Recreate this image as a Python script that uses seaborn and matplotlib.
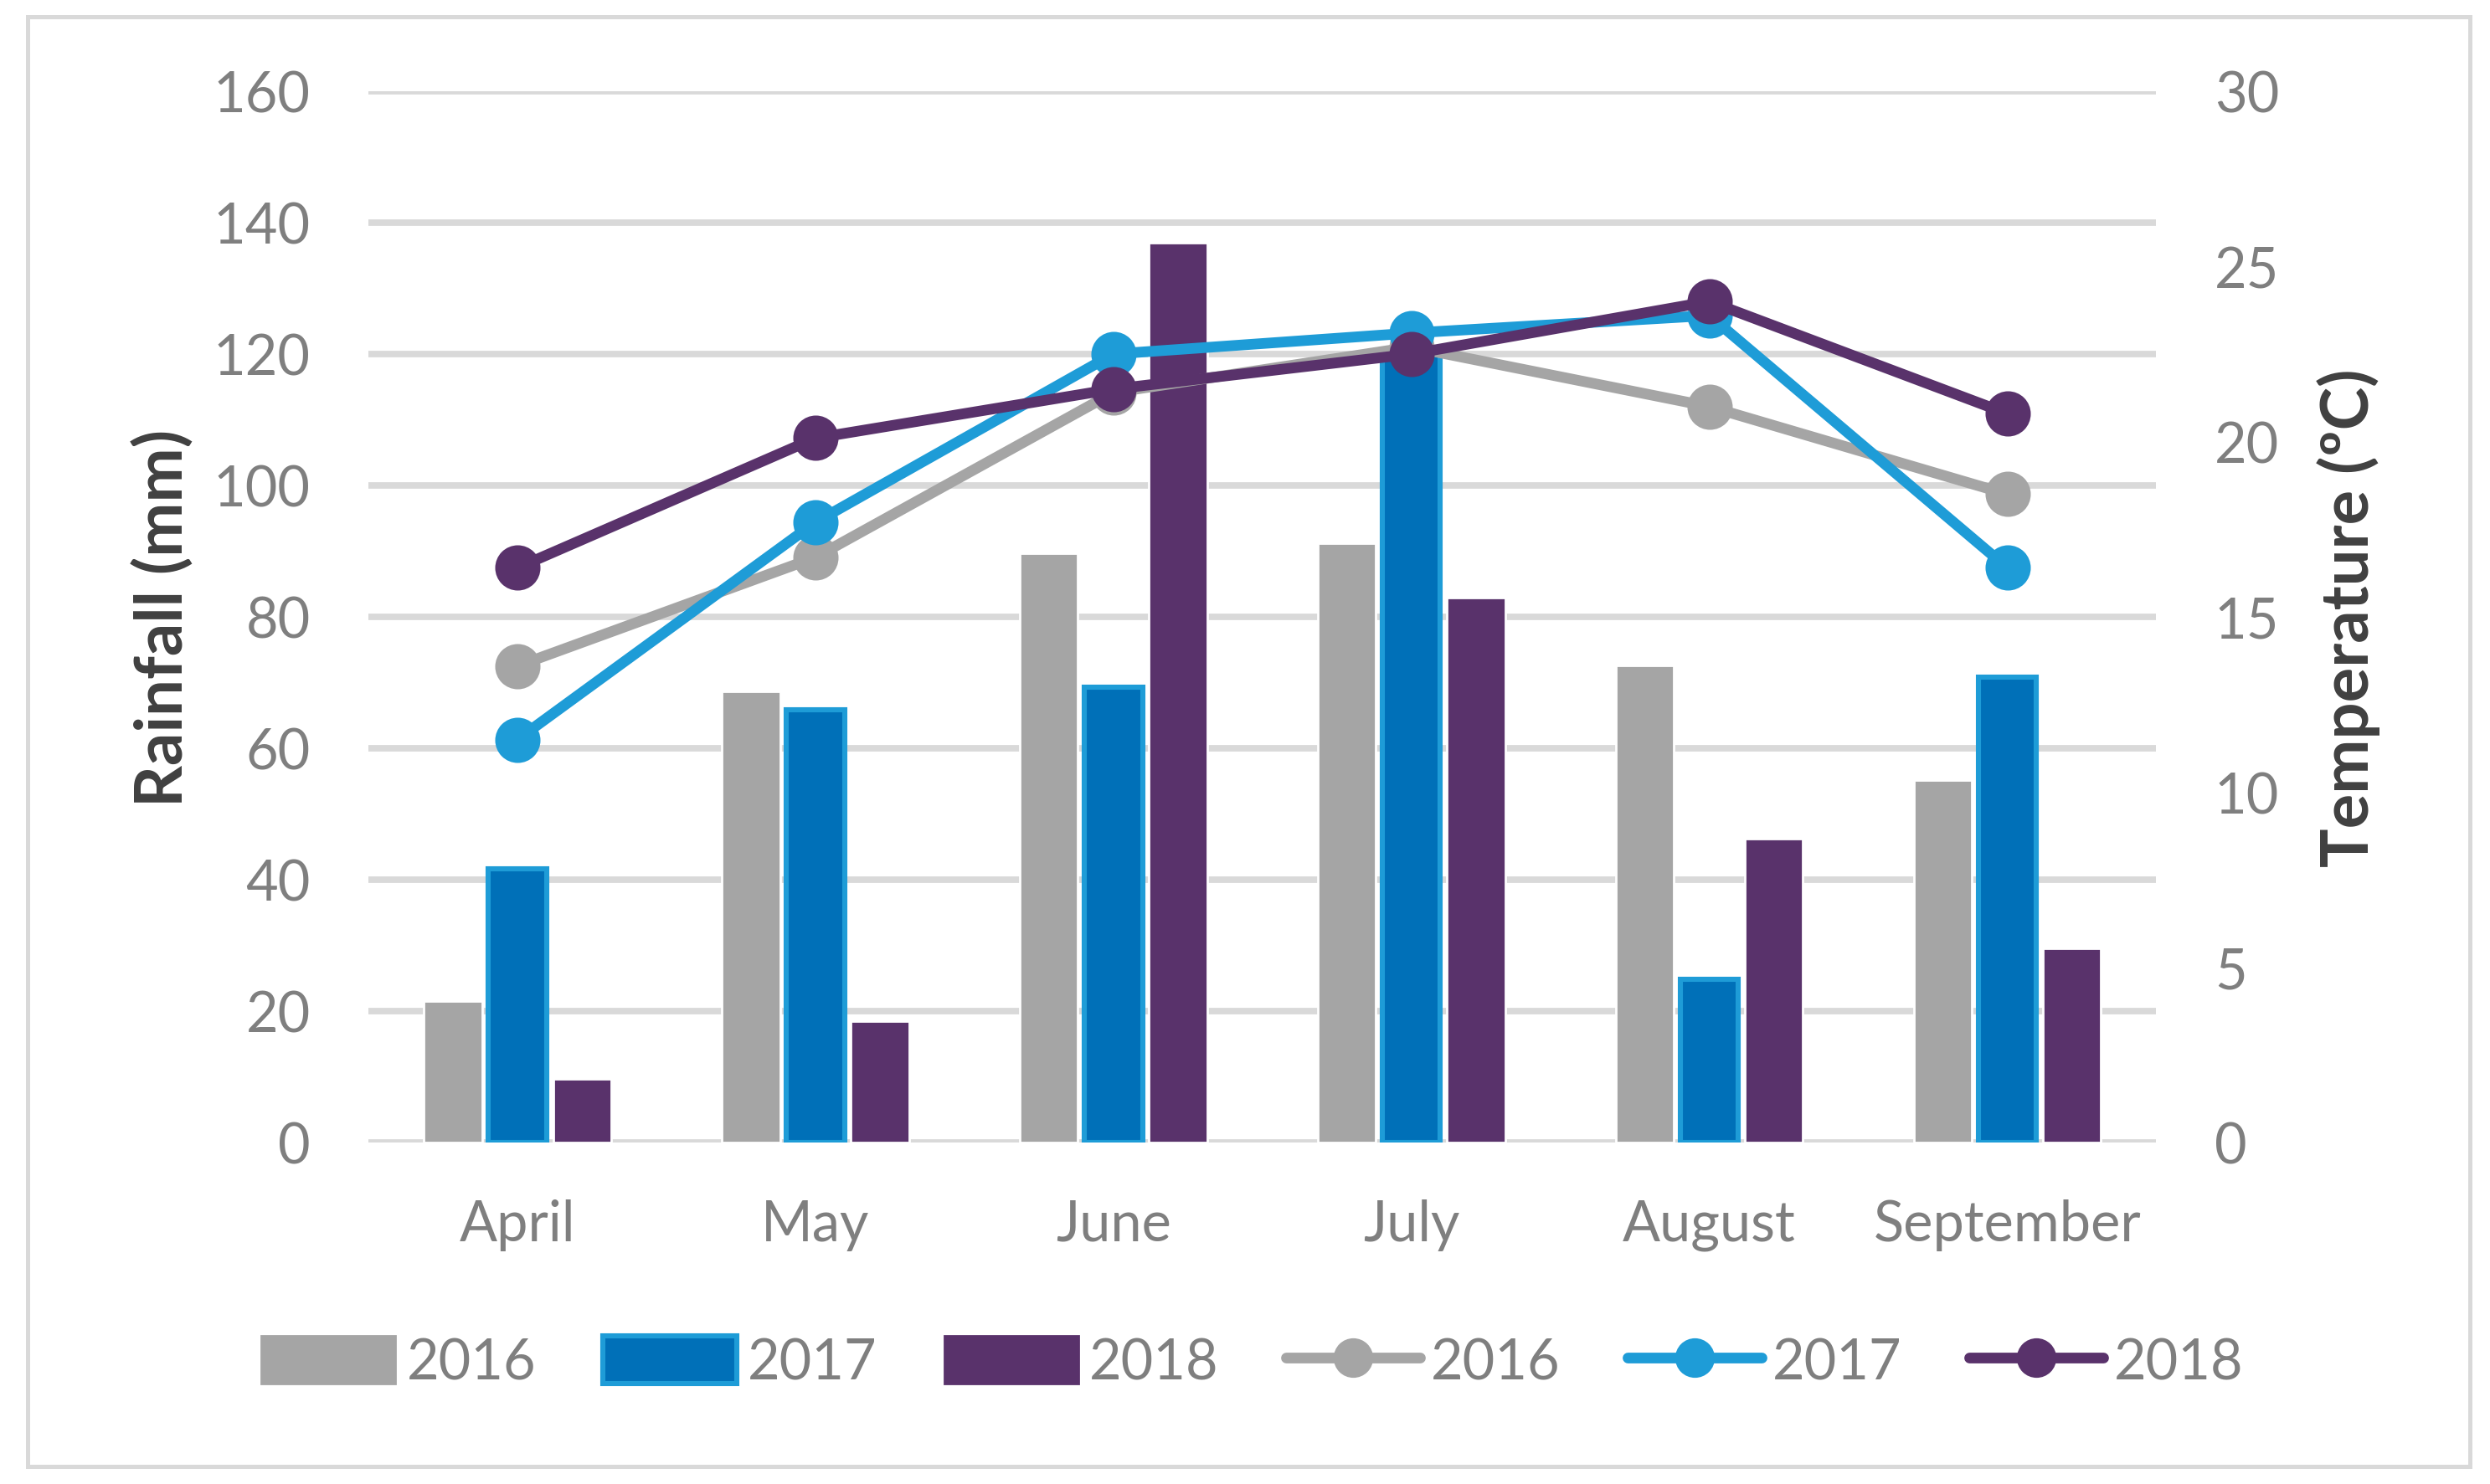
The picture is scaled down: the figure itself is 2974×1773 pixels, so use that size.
import pandas as pd
import matplotlib.pyplot as plt
import seaborn as sns
from matplotlib.patches import Patch, Rectangle
from matplotlib.lines import Line2D

# Dữ liệu
months = ['April', 'May', 'June', 'July', 'August', 'September']
years = ['2016', '2017', '2018']

rain_2016 = [21.5, 68.6, 89.7, 91.2, 72.6, 55.2]
rain_2017 = [41.7, 65.9, 69.3, 120.0, 24.8, 70.8]
rain_2018 = [9.7, 18.5, 137.0, 82.9, 46.3, 29.5]

temp_2016 = [13.6, 16.7, 21.4, 22.7, 21.0, 18.5]
temp_2017 = [11.5, 17.7, 22.5, 23.1, 23.6, 16.4]
temp_2018 = [16.4, 20.1, 21.5, 22.5, 24.0, 20.8]

bar_colors = ['#A5A5A5', '#0070B8', '#59326B']
line_colors = ['#A5A5A5', '#1E9CD7', '#59326B']
edge_2017 = '#1E9CD7'

rain = pd.DataFrame({
    'Month': months * 3,
    'Year': [y for y in years for _ in months],
    'Rainfall': rain_2016 + rain_2017 + rain_2018,
})
temp = pd.DataFrame({
    'Month': months * 3,
    'Year': [y for y in years for _ in months],
    'Temperature': temp_2016 + temp_2017 + temp_2018,
})

sns.set_style('white')
plt.rcParams['font.family'] = ['Lato', 'DejaVu Sans']

tick_color = '#7F7F7F'
label_color = '#404040'
grid_color = '#D9D9D9'
fs = 24
lw = 4.6
ms = 16

fig = plt.figure(figsize=(14.87, 8.87), dpi=200)
ax = fig.add_axes([0.148, 0.23, 0.718, 0.708])

# Cột lượng mưa
sns.barplot(data=rain, x='Month', y='Rainfall', hue='Year', palette=bar_colors,
            width=0.65, gap=0.1, saturation=1, legend=False, ax=ax, zorder=2)
for bar in ax.containers[1]:
    bar.set_edgecolor(edge_2017)
    bar.set_linewidth(2.2)

ax.set_ylim(0, 160)
ax.set_yticks(range(0, 161, 20))
ax.set_xlim(-0.5, 5.5)
ax.grid(axis='y', color=grid_color, linewidth=2.8, zorder=0)
ax.set_axisbelow(True)
for s in ax.spines.values():
    s.set_visible(False)
ax.tick_params(axis='both', length=0, labelsize=fs, labelcolor=tick_color)
ax.tick_params(axis='y', pad=25)
ax.tick_params(axis='x', pad=24)
ax.set_xlabel('')
ax.set_ylabel('Rainfall (mm)', fontsize=28, fontweight='bold', color=label_color)
ax.yaxis.set_label_coords(-0.097, 0.5)

# Đường nhiệt độ
ax2 = ax.twinx()
sns.pointplot(data=temp, x='Month', y='Temperature', hue='Year', palette=line_colors,
              markers='o', markersize=ms, linewidth=lw, legend=False, ax=ax2)
for line in ax2.lines:
    line.set_linewidth(lw)
    line.set_markersize(ms)
ax2.set_ylim(0, 30)
ax2.set_yticks(range(0, 31, 5))
ax2.set_xlim(-0.5, 5.5)
ax2.grid(False)
for s in ax2.spines.values():
    s.set_visible(False)
ax2.tick_params(axis='y', length=0, labelsize=fs, labelcolor=tick_color, pad=25)
ax2.set_ylabel('Temperature (ºC)', fontsize=28, fontweight='bold', color=label_color)
ax2.yaxis.set_label_coords(1.09, 0.5)

# Chú giải
handles = [Patch(facecolor=bar_colors[0], edgecolor=bar_colors[0]),
           Patch(facecolor=bar_colors[1], edgecolor=edge_2017, linewidth=2.2),
           Patch(facecolor=bar_colors[2], edgecolor=bar_colors[2])]
handles += [Line2D([], [], color=c, linewidth=lw, marker='o', markersize=ms) for c in line_colors]
fig.legend(handles, years + years, loc='center', bbox_to_anchor=(0.503, 0.082), ncol=6,
           frameon=False, fontsize=fs, labelcolor=tick_color, handlelength=2.4,
           handleheight=0.95, handletextpad=0.2, columnspacing=1.2)

# Khung viền
fig.patches.append(Rectangle((0.011, 0.012), 0.981, 0.976, transform=fig.transFigure,
                             fill=False, edgecolor='#D9D9D9', linewidth=1.8))

fig.savefig('out.png', dpi=200, facecolor='white')
